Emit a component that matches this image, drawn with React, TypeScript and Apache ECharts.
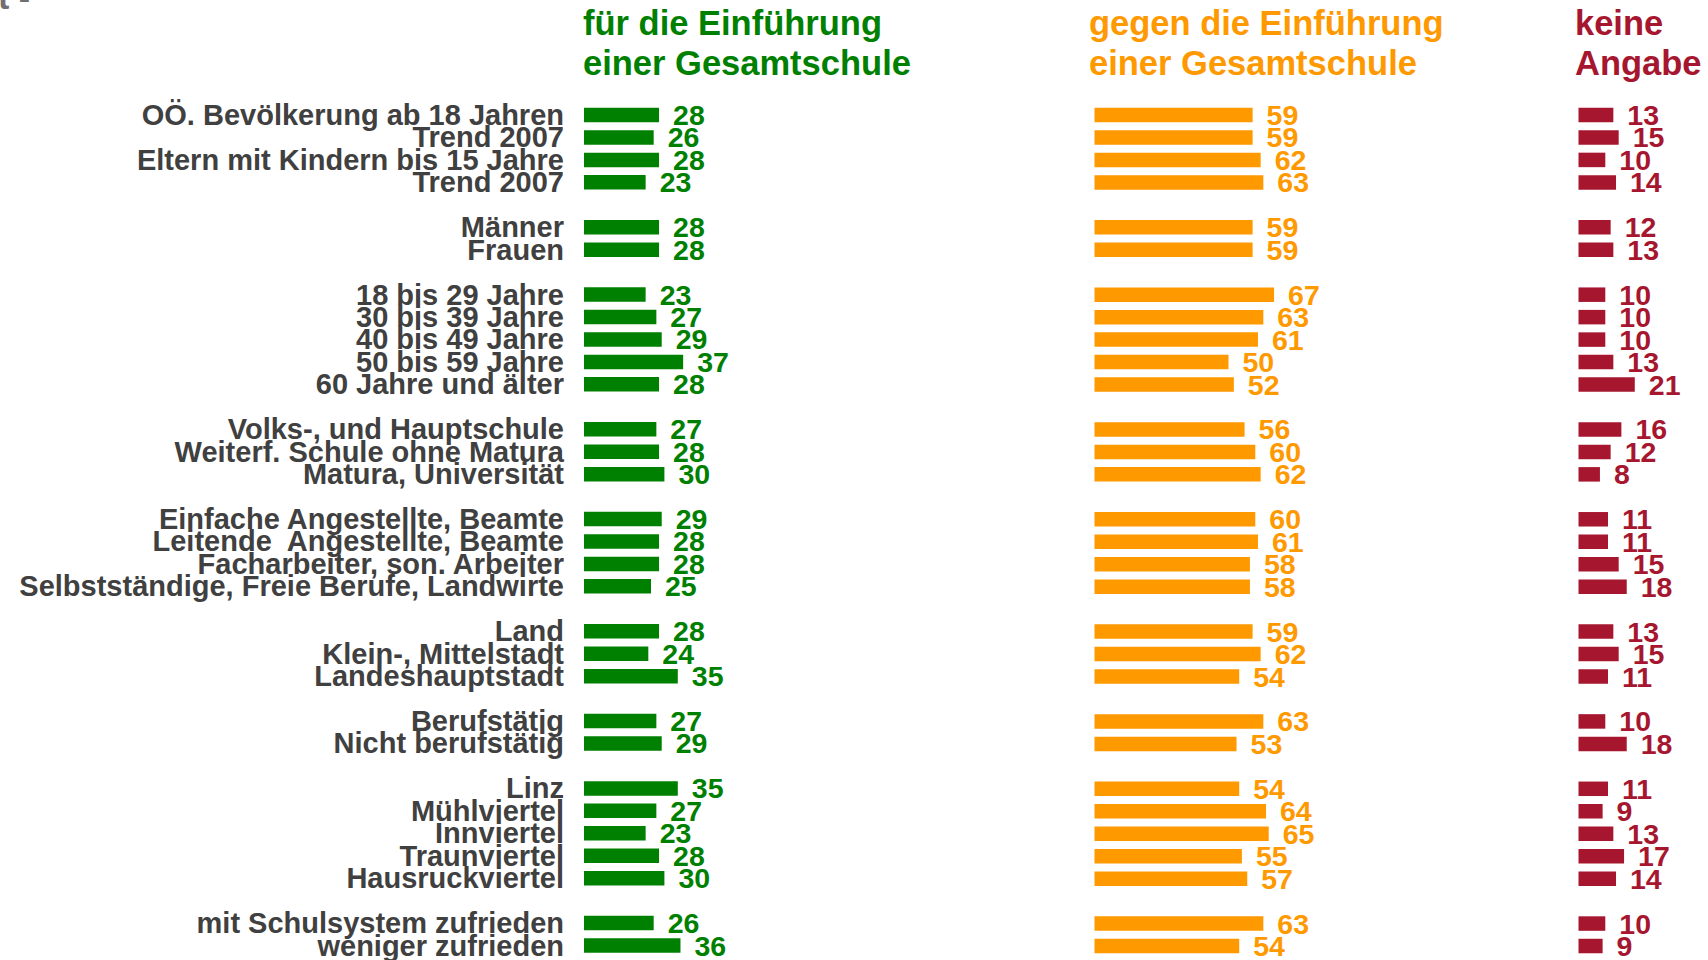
import React, { useEffect, useRef } from "react";
import * as echarts from "echarts";

// null marks an empty spacer row between groups
const labels: (string | null)[] = [
  "OÖ. Bevölkerung ab 18 Jahren", "Trend 2007", "Eltern mit Kindern bis 15 Jahre", "Trend 2007", null,
  "Männer", "Frauen", null,
  "18 bis 29 Jahre", "30 bis 39 Jahre", "40 bis 49 Jahre", "50 bis 59 Jahre", "60 Jahre und älter", null,
  "Volks-, und Hauptschule", "Weiterf. Schule ohne Matura", "Matura, Universität", null,
  "Einfache Angestellte, Beamte", "Leitende  Angestellte, Beamte", "Facharbeiter, son. Arbeiter", "Selbstständige, Freie Berufe, Landwirte", null,
  "Land", "Klein-, Mittelstadt", "Landeshauptstadt", null,
  "Berufstätig", "Nicht berufstätig", null,
  "Linz", "Mühlviertel", "Innviertel", "Traunviertel", "Hausruckviertel", null,
  "mit Schulsystem zufrieden", "weniger zufrieden",
];

const fuer: (number | null)[] = [
  28, 26, 28, 23, null,
  28, 28, null,
  23, 27, 29, 37, 28, null,
  27, 28, 30, null,
  29, 28, 28, 25, null,
  28, 24, 35, null,
  27, 29, null,
  35, 27, 23, 28, 30, null,
  26, 36,
];

const gegen: (number | null)[] = [
  59, 59, 62, 63, null,
  59, 59, null,
  67, 63, 61, 50, 52, null,
  56, 60, 62, null,
  60, 61, 58, 58, null,
  59, 62, 54, null,
  63, 53, null,
  54, 64, 65, 55, 57, null,
  63, 54,
];

const keine: (number | null)[] = [
  13, 15, 10, 14, null,
  12, 13, null,
  10, 10, 10, 13, 21, null,
  16, 12, 8, null,
  11, 11, 15, 18, null,
  13, 15, 11, null,
  10, 18, null,
  11, 9, 13, 17, 14, null,
  10, 9,
];

const seriesTitles = [
  "für die Einführung\neiner Gesamtschule",
  "gegen die Einführung\neiner Gesamtschule",
  "keine\nAngabe",
];

const FONT = '"Liberation Sans", Arial, Helvetica, sans-serif';
const GREEN = "#008000";
const ORANGE = "#FF9900";
const RED = "#A6172F";

export default function App() {
  const ref = useRef<HTMLDivElement>(null);

  useEffect(() => {
    if (!ref.current) return;
    const chart = echarts.init(ref.current, undefined, { renderer: "svg" });
    const cats = labels.map((l) => (l === null ? "" : l));
    const slot = 22.46;
    const top = 115 - slot / 2;
    const height = slot * labels.length;
    const pxPerUnit = 2.68;
    const colors = [GREEN, ORANGE, RED];
    const lefts = [584, 1094.5, 1578.5];
    const titleLefts = [583, 1089, 1575];
    const maxes = [100, 100, 40];
    const datas = [fuer, gegen, keine];

    const grids = lefts.map((l, i) => ({
      left: l,
      top,
      width: maxes[i] * pxPerUnit,
      height,
      containLabel: false,
    }));
    const xAxes = maxes.map((m, i) => ({
      type: "value" as const,
      gridIndex: i,
      min: 0,
      max: m,
      show: false,
      splitLine: { show: false },
    }));
    const yAxes = lefts.map((_, i) => ({
      type: "category" as const,
      gridIndex: i,
      inverse: true,
      data: cats,
      axisLine: { show: false },
      axisTick: { show: false },
      splitLine: { show: false },
      axisLabel: {
        show: i === 0,
        margin: 20,
        fontFamily: FONT,
        fontSize: 29,
        fontWeight: "bold" as const,
        color: "#404040",
        interval: 0,
      },
    }));
    const series = datas.map((d, i) => ({
      type: "bar" as const,
      xAxisIndex: i,
      yAxisIndex: i,
      data: d,
      barWidth: 14.5,
      itemStyle: { color: colors[i] },
      label: {
        show: true,
        position: "right" as const,
        distance: 14,
        fontFamily: FONT,
        fontSize: 28.5,
        fontWeight: "bold" as const,
        color: colors[i],
      },
    }));

    chart.setOption({
      animation: false,
      backgroundColor: "#ffffff",
      title: seriesTitles.map((t, i) => ({
        text: t,
        left: titleLefts[i],
        top: 3,
        padding: 0,
        textStyle: {
          fontFamily: FONT,
          fontSize: 34.5,
          fontWeight: "bold",
          color: colors[i],
          lineHeight: 40,
        },
      })),
      graphic: [
        {
          type: "text",
          left: -2,
          top: -20,
          style: {
            text: "t -",
            font: `bold 34px ${FONT}`,
            fill: "#707070",
          },
        },
      ],
      grid: grids,
      xAxis: xAxes,
      yAxis: yAxes,
      series,
    });
    return () => chart.dispose();
  }, []);

  return (
    <div
      ref={ref}
      style={{ position: "fixed", left: 0, top: 0, width: 1708, height: 960 }}
    />
  );
}
